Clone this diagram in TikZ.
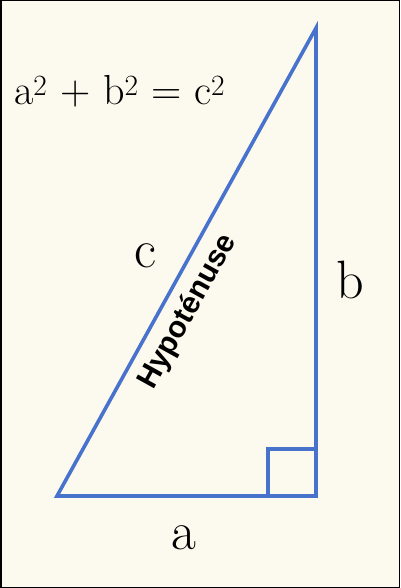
\documentclass[tikz,border=0pt]{standalone}
\usepackage{fontspec}
\newfontfamily\hypfont{Liberation Sans}
\usetikzlibrary{positioning}
\definecolor{sideblue}{RGB}{72,115,205}
\definecolor{paper}{RGB}{252,250,238}
\newcommand{\sqr}{\textsuperscript{2}}

\begin{document}
\begin{tikzpicture}[x=1pt,y=-1pt,
    side/.style={draw=sideblue,line width=3.6pt,line join=miter},
    lbl/.style={inner sep=0pt,font=\fontsize{54}{60}\selectfont},
    hyp/.style={inner sep=0pt,font=\hypfont\bfseries\fontsize{30}{33}\selectfont}]
  \fill[paper,draw=black,line width=1.5pt] (0.75,0.75) rectangle (399.25,587.25);
  \useasboundingbox (0,0) rectangle (400,588);
  \coordinate (p_a) at (57,496);
  \coordinate (p_r) at (316,496);
  \coordinate (p_c) at (316,28);
  \draw[side] (p_a) -- (p_r) -- (p_c) -- cycle;
  \draw[side] (p_r) ++(-48,0) |- ++(48,-47);
  \node[lbl] (l_a) at (184,538) {a};
  \node[lbl] (l_b) at (350,280) {b};
  \node[lbl] (l_c) at (145,256) {c};
  \node[inner sep=0pt,anchor=base west,font=\fontsize{42}{48}\selectfont] (eq)
    at (14,105) {a\sqr{} + b\sqr{} = c\sqr};
  \path (p_a) -- node[hyp,pos=0.42,sloped,below=11pt] (l_hyp) {Hypoténuse} (p_c);
\end{tikzpicture}
\end{document}
